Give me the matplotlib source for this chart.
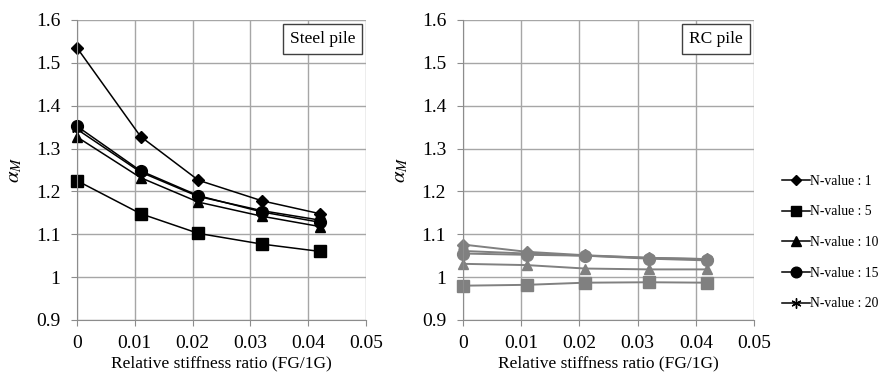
import numpy as np
import matplotlib
matplotlib.use('Agg')
import matplotlib.pyplot as plt
from matplotlib.lines import Line2D

plt.rcParams['font.family'] = ['Liberation Serif', 'DejaVu Serif']
plt.rcParams['mathtext.fontset'] = 'stix'

# Relative stiffness ratio
x = [0, 0.011, 0.021, 0.032, 0.042]
labels = ['N-value : 1', 'N-value : 5', 'N-value : 10', 'N-value : 15', 'N-value : 20']
markers = ['D', 's', '^', 'o', (6, 2, 0)]
msizes = [6, 8.5, 7.5, 8.5, 8]

# Steel pile
steel = [
    [1.535, 1.328, 1.226, 1.178, 1.148],
    [1.225, 1.148, 1.102, 1.077, 1.060],
    [1.327, 1.232, 1.175, 1.142, 1.118],
    [1.352, 1.248, 1.190, 1.152, 1.128],
    [1.345, 1.245, 1.188, 1.155, 1.133],
]
# RC pile
rc = [
    [1.076, 1.059, 1.051, 1.045, 1.042],
    [0.980, 0.982, 0.987, 0.988, 0.987],
    [1.031, 1.028, 1.020, 1.018, 1.018],
    [1.055, 1.052, 1.050, 1.043, 1.039],
    [1.061, 1.055, 1.050, 1.045, 1.042],
]

fig = plt.figure(figsize=(8.85, 3.76), dpi=100)
ax1 = fig.add_axes([0.087, 0.149, 0.3266, 0.798])
ax2 = fig.add_axes([0.523, 0.149, 0.329, 0.798])

def setup(ax, title):
    ax.set_xlim(0, 0.05)
    ax.set_ylim(0.9, 1.6)
    ax.set_xticks([0, 0.01, 0.02, 0.03, 0.04, 0.05])
    ax.set_xticklabels(['0', '0.01', '0.02', '0.03', '0.04', '0.05'])
    ax.set_yticks(np.arange(9, 17) / 10)
    ax.set_yticklabels(['0.9', '1', '1.1', '1.2', '1.3', '1.4', '1.5', '1.6'])
    ax.grid(True, color='#a6a6a6', lw=1)
    ax.set_axisbelow(True)
    for s in ['top', 'right']:
        ax.spines[s].set_visible(False)
    for s in ['left', 'bottom']:
        ax.spines[s].set_color('#8c8c8c')
    ax.tick_params(direction='out', length=4, color='#8c8c8c', labelsize=14)
    ax.tick_params(axis='x', pad=7)
    ax.tick_params(axis='y', pad=8)
    ax.set_xlabel('Relative stiffness ratio (FG/1G)', fontsize=12.5, labelpad=2)
    ax.set_ylabel(r'$\alpha_M$', fontsize=15, labelpad=8)
    ax.text(0.962, 0.962, title, transform=ax.transAxes, ha='right', va='top',
            fontsize=12.5, bbox=dict(boxstyle='square,pad=0.4', fc='white', ec='#404040', lw=1))

setup(ax1, 'Steel pile')
setup(ax2, 'RC pile')

for i in range(5):
    ax1.plot(x, steel[i], color='black', lw=1.1, marker=markers[i], ms=msizes[i],
             mec='black', mfc='black', clip_on=False)
    ax2.plot(x, rc[i], color='#808080', lw=1.4, marker=markers[i], ms=msizes[i],
             mec='#808080', mfc='#808080', clip_on=False)

leg_handles = [Line2D([], [], color='black', lw=1.1, marker=markers[i], ms=msizes[i] * 0.9)
               for i in range(5)]
fig.legend(leg_handles, labels, loc='upper left', bbox_to_anchor=(0.877, 0.55),
           frameon=False, fontsize=9.8, handlelength=2.1, handletextpad=0.0,
           labelspacing=1.3, borderaxespad=0)

fig.savefig('out.png', dpi=100)
